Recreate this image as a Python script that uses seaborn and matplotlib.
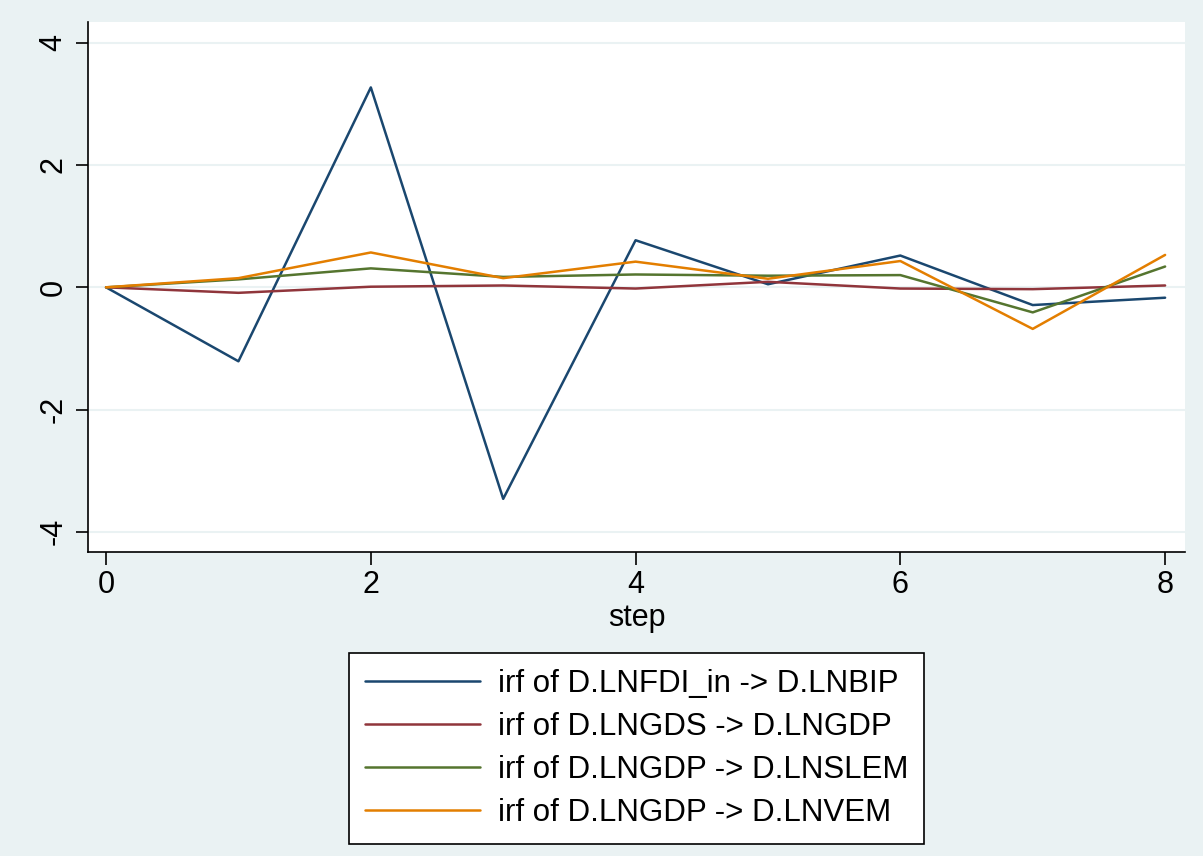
import pandas as pd
import numpy as np
import matplotlib.pyplot as plt
import seaborn as sns

# irf values
steps = [0, 1, 2, 3, 4, 5, 6, 7, 8]
fdi_bip = [0, -1.21, 3.27, -3.46, 0.77, 0.05, 0.52, -0.29, -0.17]
gds_gdp = [0, -0.09, 0.01, 0.03, -0.02, 0.09, -0.02, -0.03, 0.03]
gdp_slem = [0, 0.13, 0.31, 0.17, 0.21, 0.19, 0.20, -0.41, 0.34]
gdp_vem = [0, 0.15, 0.57, 0.15, 0.42, 0.14, 0.43, -0.68, 0.53]

labels = ['irf of D.LNFDI_in -> D.LNBIP',
          'irf of D.LNGDS -> D.LNGDP',
          'irf of D.LNGDP -> D.LNSLEM',
          'irf of D.LNGDP -> D.LNVEM']
colors = ['#1a476f', '#90353b', '#55752f', '#e37e00']

df = pd.DataFrame({
    'step': steps * 4,
    'irf': fdi_bip + gds_gdp + gdp_slem + gdp_vem,
    'series': np.repeat(labels, len(steps)),
})

sns.set_style('white')
plt.rcParams['font.family'] = ['Liberation Sans', 'DejaVu Sans']
plt.rcParams['text.color'] = 'black'
plt.rcParams['axes.labelcolor'] = 'black'

bg = '#eaf2f3'
fig = plt.figure(figsize=(12.03, 8.56), dpi=100, facecolor=bg)
ax = fig.add_axes([0.0732, 0.3551, 0.9118, 0.6192])

sns.lineplot(data=df, x='step', y='irf', hue='series', hue_order=labels,
             palette=colors, linewidth=1.8, ax=ax, legend=False)

ax.set_xlim(-0.136, 8.15)
ax.set_ylim(-4.33, 4.34)
ax.set_xticks([0, 2, 4, 6, 8])
ax.set_yticks([-4, -2, 0, 2, 4])
ax.set_yticklabels(['-4', '-2', '0', '2', '4'], rotation=90, va='center')
ax.yaxis.grid(True, color=bg, linewidth=1.5)
ax.set_axisbelow(True)
for s in ['top', 'right']:
    ax.spines[s].set_visible(False)
for s in ['left', 'bottom']:
    ax.spines[s].set_color('black')
    ax.spines[s].set_linewidth(1.2)
ax.tick_params(axis='both', direction='out', length=9, width=1.2, colors='black',
               labelsize=22, left=True, bottom=True)
ax.tick_params(axis='y', pad=5)
ax.tick_params(axis='x', pad=4)
ax.set_xlabel('step', fontsize=22, labelpad=2)
ax.set_ylabel('')

handles = [plt.Line2D([], [], color=c, linewidth=1.8) for c in colors]
leg = fig.legend(handles, labels, loc='upper center', bbox_to_anchor=(0.529, 0.237),
                 fontsize=22.5, frameon=True, fancybox=False, edgecolor='black',
                 facecolor='white', framealpha=1,
                 handlelength=3.7, handletextpad=0.55, labelspacing=0.42,
                 borderpad=0.5, borderaxespad=0)
leg.get_frame().set_linewidth(1.2)

fig.savefig('out.png', dpi=100, facecolor=bg)
